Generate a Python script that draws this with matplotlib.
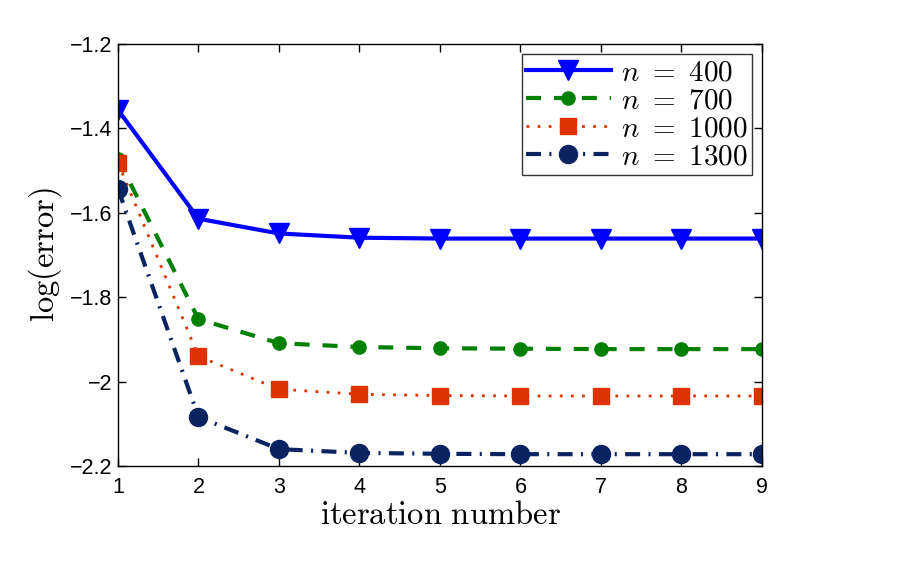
import matplotlib
matplotlib.use("Agg")
import matplotlib.pyplot as plt
import numpy as np

plt.rcParams["mathtext.fontset"] = "cm"
plt.rcParams["font.family"] = ["Liberation Sans", "DejaVu Sans"]

iterations = [1, 2, 3, 4, 5, 6, 7, 8, 9]

err_400 = [-1.356, -1.614, -1.649, -1.659, -1.661, -1.661, -1.661, -1.661, -1.661]
err_700 = [-1.472, -1.852, -1.909, -1.918, -1.921, -1.922, -1.923, -1.923, -1.923]
err_1000 = [-1.481, -1.940, -2.018, -2.030, -2.033, -2.034, -2.034, -2.034, -2.034]
err_1300 = [-1.543, -2.084, -2.160, -2.169, -2.171, -2.172, -2.172, -2.172, -2.172]

labels = [r"$n\ =\ 400$", r"$n\ =\ 700$", r"$n\ =\ 1000$", r"$n\ =\ 1300$"]

fig = plt.figure(figsize=(9.13, 5.82), dpi=100)
ax = fig.add_axes([0.1292, 0.1993, 0.7054, 0.7251])

ax.plot(iterations, err_400, color="#0000ff", linestyle="-", linewidth=3,
        marker="v", markersize=15, label=labels[0])
ax.plot(iterations, err_700, color="#008000", linestyle="--", linewidth=3,
        dashes=(3.6, 3.1), marker="o", markersize=9.5, label=labels[1])
ax.plot(iterations, err_1000, color="#dd3300", linestyle=":", linewidth=2,
        dashes=(1, 3), marker="s", markersize=12, label=labels[2])
ax.plot(iterations, err_1300, color="#0a2462", linestyle="-.", linewidth=3,
        dashes=(3.6, 2, 0.5, 2), marker="o", markersize=13, label=labels[3])

ax.set_xlim(1, 9)
ax.set_ylim(-2.2, -1.2)
ax.set_xticks(iterations)
ax.set_yticks([-2.2, -2.0, -1.8, -1.6, -1.4, -1.2])
ax.set_yticklabels(["\u22122.2", "\u22122", "\u22121.8", "\u22121.6", "\u22121.4", "\u22121.2"])
ax.tick_params(direction="in", top=True, right=True, length=6, width=1,
               labelsize=15.5)
ax.tick_params(axis="x", pad=8)
ax.tick_params(axis="y", pad=4)
for side in ax.spines.values():
    side.set_linewidth(1)

ax.set_xlabel(r"$\mathrm{iteration\ number}$", fontsize=23.5, labelpad=1)
ax.set_ylabel(r"$\log(\mathrm{error})$", fontsize=23.5, labelpad=4)

leg = ax.legend(loc="upper right", fontsize=21, frameon=True, fancybox=False,
                edgecolor="black", borderpad=0.15, labelspacing=0.0,
                handlelength=2.9, handletextpad=0.35, borderaxespad=0.35)
leg.get_frame().set_linewidth(1)

fig.savefig("out.png", dpi=100)
